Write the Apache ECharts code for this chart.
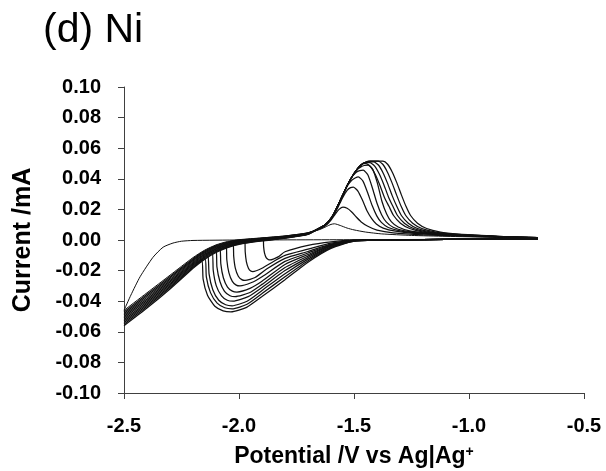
<!DOCTYPE html>
<html><head><meta charset="utf-8">
<script src="https://cdn.jsdelivr.net/npm/echarts@6/dist/echarts.min.js"></script>
<style>html,body{margin:0;padding:0;background:#fff}#c{width:606px;height:471px}</style>
</head><body><div id="c"></div><script>
// ---- data ----
const chartTitle = '(d) Ni';
const xTickValues = [-2.5, -2.0, -1.5, -1.0, -0.5];
const yTickValues = [-0.10, -0.08, -0.06, -0.04, -0.02, 0.00, 0.02, 0.04, 0.06, 0.08, 0.10];
const cycleNames = ['1','2','3','4','5','6','7','8','9','10','11'];

// first cathodic sweep (cycle 1): -0.7 V -> -2.5 V
const firstCathodic = [[-0.7,0.001],[-1.0,0.0005],[-1.5,0.0002],[-2.0,0.0],[-2.2,-0.0003],[-2.25,-0.0008],[-2.287,-0.002],[-2.33,-0.0047],[-2.374,-0.0113],[-2.43,-0.024],[-2.47,-0.036],[-2.5,-0.046]];

// common potentials of the steep band between -2.5 V and -1.7 V
const bandPotentials = [-2.5,-2.4,-2.3,-2.2,-2.15,-2.1,-2.05,-2.0,-1.9,-1.8,-1.7];
const bandCycle1  = [-0.046,-0.0345,-0.023,-0.0115,-0.0067,-0.0032,-0.001,0.0002,0.0014,0.00265,0.0047];
const bandCycle2  = [-0.047,-0.0355,-0.0239,-0.0122,-0.0073,-0.0037,-0.0014,-0.0001,0.0012,0.0025,0.0046];
const bandCycle3  = [-0.048,-0.0365,-0.0248,-0.0129,-0.0079,-0.0042,-0.0018,-0.0004,0.001,0.00235,0.0045];
const bandCycle4  = [-0.049,-0.0375,-0.0257,-0.0136,-0.0085,-0.0047,-0.0022,-0.0007,0.0008,0.0022,0.0044];
const bandCycle5  = [-0.050,-0.0385,-0.0266,-0.0143,-0.0091,-0.0052,-0.0026,-0.001,0.0006,0.00205,0.0043];
const bandCycle6  = [-0.051,-0.0395,-0.0275,-0.015,-0.0097,-0.0057,-0.003,-0.0013,0.0004,0.0019,0.0042];
const bandCycle7  = [-0.052,-0.0405,-0.0284,-0.0157,-0.0103,-0.0062,-0.0034,-0.0016,0.0002,0.00175,0.0041];
const bandCycle8  = [-0.053,-0.0415,-0.0293,-0.0164,-0.0109,-0.0067,-0.0038,-0.0019,0.0,0.0016,0.004];
const bandCycle9  = [-0.054,-0.0425,-0.0302,-0.0171,-0.0115,-0.0072,-0.0042,-0.0022,-0.0002,0.00145,0.0039];
const bandCycle10 = [-0.055,-0.0435,-0.0311,-0.0178,-0.0121,-0.0077,-0.0046,-0.0025,-0.0004,0.0013,0.0038];
const bandCycle11 = [-0.056,-0.0445,-0.032,-0.0185,-0.0127,-0.0082,-0.005,-0.0028,-0.0006,0.00115,0.0037];

// reduction waves (cycles 2..11), from the left edge to -1.4 V
const reduction2  = [[-1.895,0.0008],[-1.893,-0.0043],[-1.889,-0.0086],[-1.882,-0.0115],[-1.873,-0.0127],[-1.865,-0.013],[-1.83,-0.011],[-1.8,-0.0077],[-1.7,-0.0035],[-1.6,-0.0012],[-1.5,-0.0001],[-1.4,0]];
const reduction3  = [[-1.975,0.0],[-1.973,-0.0077],[-1.968,-0.0141],[-1.959,-0.0184],[-1.949,-0.0203],[-1.94,-0.0207],[-1.9,-0.0185],[-1.85,-0.014],[-1.8,-0.010],[-1.7,-0.006],[-1.6,-0.002],[-1.5,-0.0002],[-1.4,0]];
const reduction4  = [[-2.026,-0.0015],[-2.023,-0.0107],[-2.016,-0.0184],[-2.003,-0.0237],[-1.988,-0.0259],[-1.974,-0.0264],[-1.93,-0.0245],[-1.88,-0.019],[-1.8,-0.012],[-1.7,-0.0075],[-1.6,-0.0027],[-1.5,-0.0002],[-1.4,0]];
const reduction5  = [[-2.056,-0.0029],[-2.053,-0.0129],[-2.044,-0.0213],[-2.029,-0.027],[-2.012,-0.0295],[-1.996,-0.030],[-1.945,-0.0278],[-1.9,-0.024],[-1.8,-0.014],[-1.7,-0.0085],[-1.6,-0.003],[-1.5,-0.0003],[-1.4,0]];
const reduction6  = [[-2.083,-0.0048],[-2.079,-0.0156],[-2.068,-0.0247],[-2.05,-0.0308],[-2.029,-0.0334],[-2.009,-0.034],[-1.95,-0.0315],[-1.9,-0.027],[-1.8,-0.016],[-1.7,-0.0095],[-1.6,-0.0033],[-1.5,-0.0003],[-1.4,0]];
const reduction7  = [[-2.10,-0.0062],[-2.096,-0.0176],[-2.083,-0.0271],[-2.063,-0.0336],[-2.039,-0.0364],[-2.017,-0.037],[-1.955,-0.0345],[-1.9,-0.029],[-1.8,-0.018],[-1.7,-0.0105],[-1.6,-0.0037],[-1.5,-0.0004],[-1.4,0]];
const reduction8  = [[-2.117,-0.0081],[-2.112,-0.0199],[-2.099,-0.0298],[-2.076,-0.0365],[-2.051,-0.0394],[-2.026,-0.040],[-1.96,-0.037],[-1.9,-0.031],[-1.8,-0.020],[-1.7,-0.0115],[-1.6,-0.004],[-1.5,-0.0005],[-1.4,0]];
const reduction9  = [[-2.135,-0.0102],[-2.13,-0.0223],[-2.114,-0.0325],[-2.088,-0.0394],[-2.058,-0.0423],[-2.03,-0.043],[-1.965,-0.040],[-1.9,-0.033],[-1.8,-0.022],[-1.7,-0.0125],[-1.6,-0.0045],[-1.5,-0.0006],[-1.4,0]];
const reduction10 = [[-2.148,-0.0118],[-2.142,-0.0241],[-2.124,-0.0344],[-2.095,-0.0413],[-2.062,-0.0443],[-2.03,-0.045],[-1.965,-0.042],[-1.9,-0.035],[-1.8,-0.024],[-1.7,-0.0135],[-1.6,-0.005],[-1.5,-0.0007],[-1.4,0]];
const reduction11 = [[-2.162,-0.013],[-2.156,-0.0256],[-2.137,-0.0361],[-2.105,-0.0433],[-2.069,-0.0463],[-2.035,-0.047],[-1.967,-0.044],[-1.9,-0.037],[-1.8,-0.026],[-1.7,-0.0145],[-1.6,-0.0055],[-1.5,-0.0008],[-1.4,0]];
// near-zero baseline of the cathodic sweeps, -1.2 V .. -0.7 V
const baselineTail = [[-1.2,0.0003],[-1.0,0.0005],[-0.85,0.0007],[-0.7,0.0008]];

// oxidation (stripping) peaks, -1.65 V -> -0.7 V
const oxidation1  = [[-1.65,0.0068],[-1.62,0.0088],[-1.60,0.0102],[-1.585,0.0106],[-1.56,0.0095],[-1.53,0.0078],[-1.50,0.0066],[-1.45,0.0052],[-1.38,0.0040],[-1.25,0.0030],[-1.1,0.0024],[-0.9,0.0018],[-0.7,0.0012]];
const oxidation2  = [[-1.65,0.0072],[-1.62,0.0098],[-1.60,0.0130],[-1.58,0.0172],[-1.565,0.0200],[-1.548,0.0215],[-1.53,0.0207],[-1.51,0.0183],[-1.49,0.0150],[-1.47,0.0120],[-1.44,0.0090],[-1.40,0.0065],[-1.33,0.0047],[-1.2,0.0034],[-1.0,0.0024],[-0.85,0.0018],[-0.7,0.0013]];
const oxidation3  = [[-1.65,0.0074],[-1.63,0.0092],[-1.61,0.0118],[-1.59,0.0158],[-1.57,0.0213],[-1.55,0.0275],[-1.53,0.0325],[-1.515,0.0342],[-1.503,0.0346],[-1.483,0.032],[-1.463,0.026],[-1.443,0.019],[-1.423,0.014],[-1.403,0.0105],[-1.373,0.0078],[-1.32,0.0058],[-1.24,0.0044],[-1.1,0.0033],[-1.0,0.0027],[-0.85,0.0019],[-0.7,0.0014]];
const oxidation4  = [[-1.65,0.0076],[-1.63,0.0094],[-1.61,0.0121],[-1.59,0.0163],[-1.57,0.0222],[-1.55,0.0287],[-1.53,0.0350],[-1.51,0.0390],[-1.495,0.0405],[-1.481,0.0412],[-1.461,0.0385],[-1.441,0.031],[-1.421,0.0225],[-1.401,0.0158],[-1.381,0.0115],[-1.351,0.0082],[-1.30,0.006],[-1.22,0.0045],[-1.1,0.0035],[-1.0,0.0028],[-0.85,0.002],[-0.7,0.0014]];
const oxidation5  = [[-1.65,0.0077],[-1.63,0.0095],[-1.61,0.0122],[-1.59,0.0165],[-1.57,0.0225],[-1.55,0.029],[-1.53,0.0355],[-1.51,0.041],[-1.49,0.0443],[-1.475,0.0453],[-1.46,0.0456],[-1.44,0.0426],[-1.42,0.034],[-1.40,0.024],[-1.38,0.0165],[-1.36,0.0118],[-1.33,0.0083],[-1.28,0.006],[-1.20,0.0045],[-1.1,0.0036],[-1.0,0.0029],[-0.85,0.002],[-0.7,0.0014]];
const oxidation6  = [[-1.65,0.0078],[-1.63,0.0095],[-1.61,0.0122],[-1.59,0.0165],[-1.57,0.0225],[-1.55,0.029],[-1.53,0.0355],[-1.51,0.041],[-1.49,0.0455],[-1.47,0.0478],[-1.455,0.0487],[-1.438,0.0489],[-1.418,0.046],[-1.398,0.037],[-1.378,0.025],[-1.358,0.017],[-1.338,0.012],[-1.308,0.0085],[-1.258,0.006],[-1.178,0.0045],[-1.1,0.0037],[-1.0,0.003],[-0.85,0.002],[-0.7,0.0015]];
const oxidation7  = [[-1.65,0.0078],[-1.63,0.0095],[-1.61,0.0122],[-1.59,0.0165],[-1.57,0.0225],[-1.55,0.029],[-1.53,0.0355],[-1.51,0.041],[-1.49,0.0455],[-1.47,0.049],[-1.455,0.050],[-1.448,0.050],[-1.428,0.048],[-1.408,0.043],[-1.388,0.036],[-1.368,0.028],[-1.348,0.022],[-1.328,0.016],[-1.298,0.011],[-1.258,0.0075],[-1.198,0.0052],[-1.118,0.0038],[-1.0,0.003],[-0.85,0.002],[-0.7,0.0015]];
const oxidation8  = [[-1.65,0.0078],[-1.63,0.0095],[-1.61,0.0122],[-1.59,0.0165],[-1.57,0.0225],[-1.55,0.029],[-1.53,0.0355],[-1.51,0.041],[-1.49,0.0455],[-1.47,0.049],[-1.45,0.0505],[-1.431,0.0505],[-1.411,0.0485],[-1.391,0.0435],[-1.371,0.0365],[-1.351,0.0285],[-1.331,0.022],[-1.311,0.016],[-1.281,0.011],[-1.241,0.0075],[-1.181,0.0052],[-1.101,0.0038],[-1.0,0.0031],[-0.85,0.0021],[-0.7,0.0015]];
const oxidation9  = [[-1.65,0.0078],[-1.63,0.0095],[-1.61,0.0122],[-1.59,0.0165],[-1.57,0.0225],[-1.55,0.029],[-1.53,0.0355],[-1.51,0.041],[-1.49,0.0455],[-1.47,0.049],[-1.45,0.0508],[-1.43,0.051],[-1.414,0.051],[-1.394,0.049],[-1.374,0.044],[-1.354,0.037],[-1.334,0.029],[-1.314,0.022],[-1.294,0.016],[-1.264,0.011],[-1.224,0.0075],[-1.164,0.0052],[-1.084,0.0038],[-1.0,0.0032],[-0.85,0.0021],[-0.7,0.0015]];
const oxidation10 = [[-1.65,0.0078],[-1.63,0.0095],[-1.61,0.0122],[-1.59,0.0165],[-1.57,0.0225],[-1.55,0.029],[-1.53,0.0355],[-1.51,0.041],[-1.49,0.0455],[-1.47,0.049],[-1.45,0.0508],[-1.43,0.0515],[-1.395,0.0515],[-1.375,0.0495],[-1.355,0.0445],[-1.335,0.0375],[-1.315,0.0295],[-1.295,0.022],[-1.275,0.016],[-1.245,0.011],[-1.205,0.0075],[-1.145,0.0052],[-1.065,0.0038],[-1.0,0.0033],[-0.85,0.0022],[-0.7,0.0015]];
const oxidation11 = [[-1.65,0.0078],[-1.63,0.0095],[-1.61,0.0122],[-1.59,0.0165],[-1.57,0.0225],[-1.55,0.029],[-1.53,0.0355],[-1.51,0.041],[-1.49,0.0455],[-1.47,0.049],[-1.45,0.0508],[-1.43,0.0515],[-1.374,0.0515],[-1.354,0.0495],[-1.334,0.0445],[-1.314,0.0375],[-1.294,0.0295],[-1.274,0.022],[-1.254,0.016],[-1.224,0.011],[-1.184,0.0075],[-1.124,0.0052],[-1.044,0.0038],[-1.0,0.0034],[-0.85,0.0022],[-0.7,0.0015]];

// ---- assembly ----
const bands = [bandCycle1,bandCycle2,bandCycle3,bandCycle4,bandCycle5,bandCycle6,bandCycle7,bandCycle8,bandCycle9,bandCycle10,bandCycle11];
const reductions = [null,reduction2,reduction3,reduction4,reduction5,reduction6,reduction7,reduction8,reduction9,reduction10,reduction11];
const oxidations = [oxidation1,oxidation2,oxidation3,oxidation4,oxidation5,oxidation6,oxidation7,oxidation8,oxidation9,oxidation10,oxidation11];

function cyclePath(k) {
  const pts = [];
  if (k === 0) {
    firstCathodic.forEach(p => pts.push(p));
  } else {
    const red = reductions[k].concat(baselineTail).slice().reverse();
    red.forEach(p => pts.push(p));
    const L = reductions[k][0][0];
    for (let i = bandPotentials.length - 1; i >= 0; i--) {
      if (bandPotentials[i] < L - 0.01) pts.push([bandPotentials[i], bands[k][i]]);
    }
  }
  for (let i = 1; i < bandPotentials.length; i++) pts.push([bandPotentials[i], bands[k][i]]);
  oxidations[k].forEach(p => pts.push(p));
  return pts;
}

const series = cycleNames.map((name, k) => ({
  name: name,
  type: 'line',
  data: cyclePath(k),
  showSymbol: false,
  symbol: 'none',
  smooth: 0.2,
  silent: true,
  clip: true,
  lineStyle: { color: '#111', width: k === 0 ? 1 : 1.25 }
}));

const FONT = 'Liberation Sans, Arial, sans-serif';
const chart = echarts.init(document.getElementById('c'), null, { renderer: 'canvas' });
chart.setOption({
  animation: false,
  backgroundColor: '#fff',
  title: {
    text: chartTitle, left: 38, top: 5,
    textStyle: { fontFamily: FONT, fontSize: 41, fontWeight: 'normal', color: '#000' }
  },
  grid: { left: 124, right: 22, top: 87, bottom: 78, containLabel: false, outerBoundsMode: 'none' },
  xAxis: {
    type: 'value',
    min: xTickValues[0], max: xTickValues[xTickValues.length - 1], interval: 0.5,
    name: 'Potential /V vs Ag|Ag{s|+}',
    nameLocation: 'middle', nameGap: 52,
    nameTextStyle: { fontFamily: FONT, fontSize: 23, fontWeight: 'bold', color: '#000',
      rich: { s: { fontFamily: FONT, fontSize: 14, fontWeight: 'bold', color: '#000', padding: [0, 0, 10, 0] } } },
    axisLine: { show: true, onZero: false, lineStyle: { color: '#404040', width: 1 } },
    axisTick: { show: true, inside: false, length: 6, lineStyle: { color: '#404040' } },
    splitLine: { show: false },
    axisLabel: { fontFamily: FONT, fontSize: 20, fontWeight: 'bold', color: '#000', margin: 23,
      formatter: v => v.toFixed(1) }
  },
  yAxis: {
    type: 'value',
    min: yTickValues[0], max: yTickValues[yTickValues.length - 1], interval: 0.02,
    name: 'Current /mA',
    nameLocation: 'middle', nameGap: 88,
    nameTextStyle: { fontFamily: FONT, fontSize: 25, fontWeight: 'bold', color: '#000' },
    axisLine: { show: true, onZero: false, lineStyle: { color: '#404040', width: 1 } },
    axisTick: { show: true, inside: false, length: 6, lineStyle: { color: '#404040' } },
    splitLine: { show: false },
    axisLabel: { fontFamily: FONT, fontSize: 20, fontWeight: 'bold', color: '#000', margin: 23,
      formatter: v => (Math.abs(v) < 1e-9 ? 0 : v).toFixed(2) }
  },
  series: series
});
</script></body></html>
